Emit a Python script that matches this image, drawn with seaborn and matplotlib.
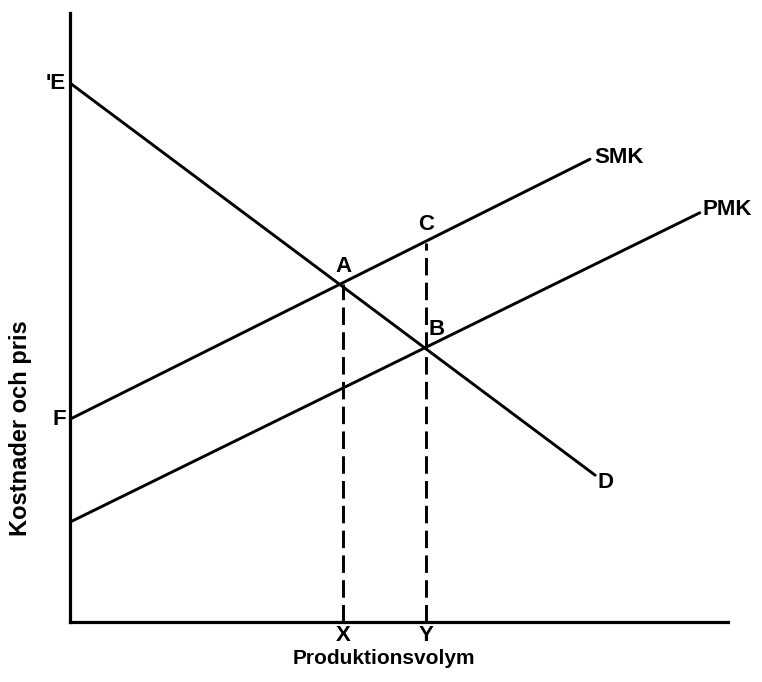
import matplotlib
matplotlib.use("Agg")
import matplotlib.pyplot as plt
import seaborn as sns
import pandas as pd

# ---- data ----
curve_names = ["D", "SMK", "PMK"]
q_start = [0.0, 0.0, 0.0]
q_end = [80.8, 80.0, 96.9]
p_start = [88.5, 33.3, 16.4]
p_end = [24.1, 76.0, 67.2]

point_names = ["A", "B", "C"]
point_q = [42.0, 54.8, 54.8]
point_p = [55.5, 45.0, 62.2]

drop_labels = ["X", "Y"]
drop_q = [42.0, 54.8]
drop_top = [55.5, 62.2]

intercept_labels = ["'E", "F"]
intercept_p = [88.5, 33.3]

x_title = "Produktionsvolym"
y_title = "Kostnader och pris"

# ---- tables ----
rows = []
for n, q0, q1, p0, p1 in zip(curve_names, q_start, q_end, p_start, p_end):
    rows.append({"curve": n, "Q": q0, "P": p0})
    rows.append({"curve": n, "Q": q1, "P": p1})
curves = pd.DataFrame(rows)

drows = []
for n, q, top in zip(drop_labels, drop_q, drop_top):
    drows.append({"name": n, "Q": q, "P": 0.0})
    drows.append({"name": n, "Q": q, "P": top})
drops = pd.DataFrame(drows)

# ---- style ----
sns.set_theme(style="white")
plt.rcParams["font.family"] = ["Liberation Sans", "DejaVu Sans"]

W, H = 762, 682
fig = plt.figure(figsize=(W / 100, H / 100), dpi=100)
left_px, right_px, top_px, bottom_px = 70, 728, 13, 622
ax = fig.add_axes([left_px / W, (H - bottom_px) / H,
                   (right_px - left_px) / W, (bottom_px - top_px) / H])
ax.set_xlim(0, (right_px - left_px) / 6.5)
ax.set_ylim(0, 100)

sns.lineplot(data=curves, x="Q", y="P", units="curve", estimator=None,
             color="black", linewidth=2.1, ax=ax, legend=False)
sns.lineplot(data=drops, x="Q", y="P", units="name", estimator=None,
             color="black", linewidth=2.1, linestyle=(0, (6, 2.5)),
             ax=ax, legend=False)

for s in ["top", "right"]:
    ax.spines[s].set_visible(False)
for s in ["left", "bottom"]:
    ax.spines[s].set_color("black")
    ax.spines[s].set_linewidth(2.3)
ax.set_xticks([])
ax.set_yticks([])
ax.set_xlabel("")
ax.set_ylabel("")

fs = 16
fw = "bold"
# curve end labels
end_offsets = {"D": (2, -5, "left", "center"),
               "SMK": (3, 1, "left", "center"),
               "PMK": (2, 2, "left", "center")}
for n, q1, p1 in zip(curve_names, q_end, p_end):
    dx, dy, ha, va = end_offsets[n]
    ax.annotate(n, (q1, p1), xytext=(dx, dy), textcoords="offset points",
                ha=ha, va=va, fontsize=fs, fontweight=fw, color="black")

# intercept labels
for lab, p in zip(intercept_labels, intercept_p):
    ax.annotate(lab, (0, p), xytext=(-3, 0), textcoords="offset points",
                ha="right", va="center", fontsize=fs, fontweight=fw,
                color="black")

# point labels
pt_offsets = {"A": (0, 5, "center", "bottom"),
              "B": (2, 6, "left", "bottom"),
              "C": (0, 6, "center", "bottom")}
for n, q, p in zip(point_names, point_q, point_p):
    dx, dy, ha, va = pt_offsets[n]
    ax.annotate(n, (q, p), xytext=(dx, dy), textcoords="offset points",
                ha=ha, va=va, fontsize=fs, fontweight=fw, color="black")

# drop labels
for n, q in zip(drop_labels, drop_q):
    ax.annotate(n, (q, 0), xytext=(0, -2), textcoords="offset points",
                ha="center", va="top", fontsize=fs, fontweight=fw,
                color="black")

fig.text(384 / W, 1 - 658 / H, x_title, ha="center", va="center",
         fontsize=fs - 1, fontweight=fw, color="black")
fig.text(21 / W, 1 - 428 / H, y_title, ha="center", va="center",
         rotation=90, fontsize=fs + 1, fontweight=fw, color="black")

fig.savefig("out.png", dpi=100, facecolor="white")
